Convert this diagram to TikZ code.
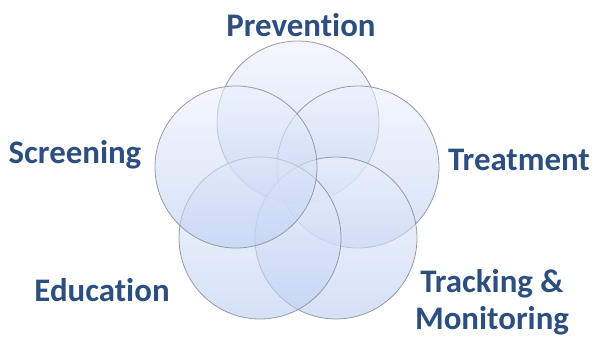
\documentclass[tikz,border=0pt]{standalone}
\usepackage{fontspec}
\setmainfont[Ligatures=NoCommon]{Carlito}
\definecolor{labelblue}{HTML}{2C4F80}
\definecolor{ringedge}{HTML}{878C96}
\definecolor{ringtop}{HTML}{EDF2FD}
\definecolor{ringbot}{HTML}{BACDF3}
\tikzset{
  ring/.style={draw=ringedge, line width=0.8pt, top color=ringtop, bottom color=ringbot, fill opacity=0.6, draw opacity=0.85},
  lbl/.style={text=labelblue, font=\bfseries\fontsize{33}{37}\selectfont, align=center, inner sep=0pt}
}
\begin{document}
\begin{tikzpicture}[x=1bp,y=-1bp]
\useasboundingbox (0,0) rectangle (595,337);
\fill[white] (0,0) rectangle (595,337);
\path[ring] (298,122) circle[radius=81];
\path[ring] (358,167) circle[radius=81];
\path[ring] (336,238) circle[radius=81];
\path[ring] (260,238) circle[radius=81];
\path[ring] (236,167) circle[radius=81];
\node[lbl] (prev) at (301,25) {Prevention};
\node[lbl] (treat) at (519,160) {Treatment};
\node[lbl] (track) at (492,302) {Tracking \&\\Monitoring};
\node[lbl] (edu) at (102,290) {Education};
\node[lbl] (scr) at (75,155) {Screening};
\end{tikzpicture}
\end{document}
